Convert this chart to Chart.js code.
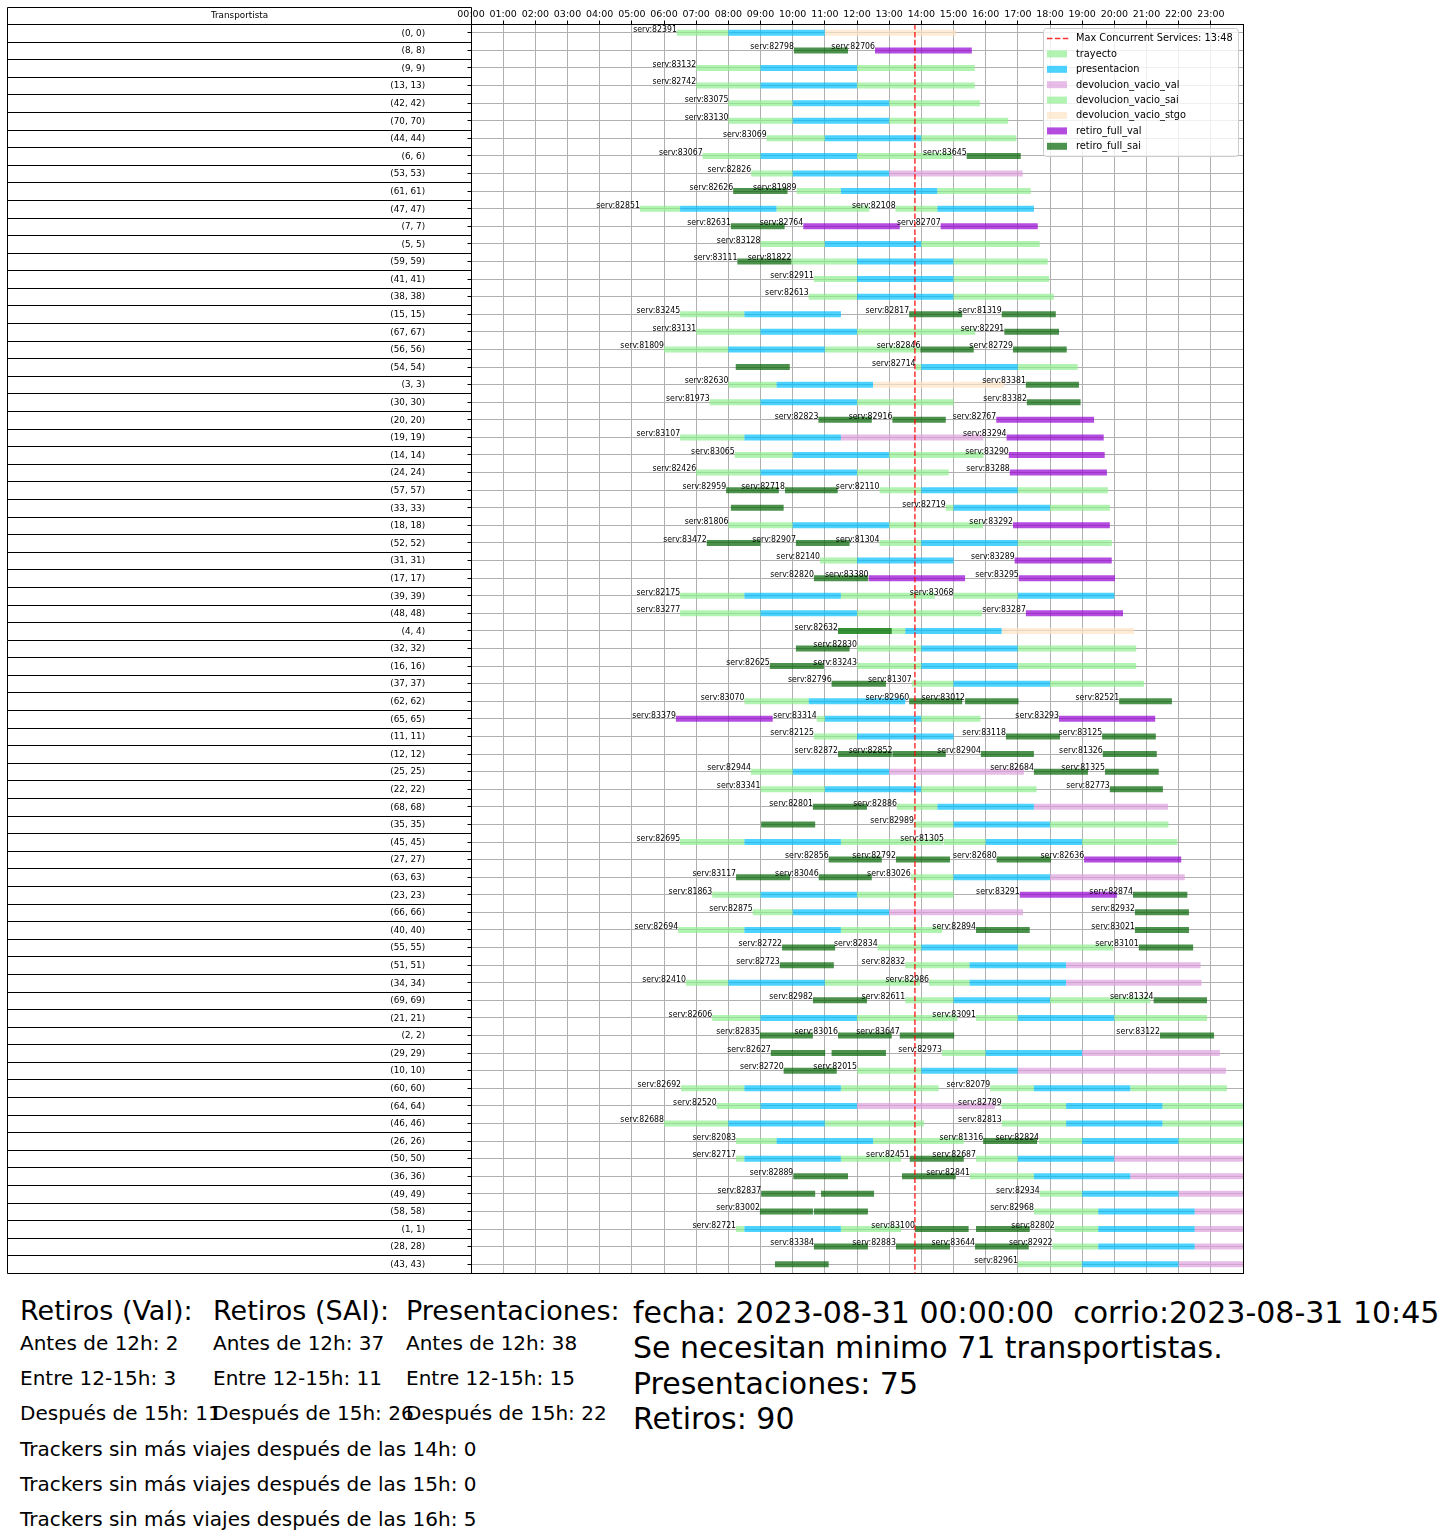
<!DOCTYPE html>
<html><head><meta charset="utf-8">
<script src="https://cdn.jsdelivr.net/npm/chart.js@4.4.0/dist/chart.umd.min.js"></script>
<style>
html,body{margin:0;padding:0;background:#fff;}
#wrap{position:relative;width:1446px;height:1537px;overflow:hidden;background:#fff;}
#c{position:absolute;left:0;top:0;}
.t{position:absolute;white-space:pre;font-family:'DejaVu Sans',sans-serif;color:#000;}
</style></head><body>
<div id="wrap"><canvas id="c" width="1446" height="1290"></canvas><div id="txt"></div></div>
<script>
// ---------------- DATA ----------------
const transportistas = [0,8,9,13,42,70,44,6,53,61,47,7,5,59,41,38,15,67,56,54,3,30,20,19,14,24,57,33,18,52,31,17,39,48,4,32,16,37,62,65,11,12,25,22,68,35,45,27,63,23,66,40,55,51,34,69,21,2,29,10,60,64,46,26,50,36,49,58,1,28,43];
const hourTicks = ['00:00','01:00','02:00','03:00','04:00','05:00','06:00','07:00','08:00','09:00','10:00','11:00','12:00','13:00','14:00','15:00','16:00','17:00','18:00','19:00','20:00','21:00','22:00','23:00'];
const maxConcurrentHour = 13.8;
const maxConcurrentLabel = '13:48';

// [fila, inicio(h), fin(h)]
const trayecto = [
[0,6.4,8],[2,7,9],[3,7,9],[4,8,10],[5,8,10],[6,9.19,11],[7,7.2,9],[8,8.71,10],[9,10.12,11.5],[10,5.25,6.5],[10,13.2,14.5],
[12,9,11],[13,9.96,12],[14,10.66,12],[15,10.5,12],[16,6.5,8.5],[17,7,9],[18,6,8],[19,13.82,14],
[20,8,9.5],[21,7.42,9],[23,6.5,8.5],[24,8.2,10],[25,7,9],[26,12.7,14],[27,14.76,15],[28,8,10],[29,12.7,14],
[30,10.85,12],[32,6.5,8.5],[32,15,17],[33,6.5,9],[34,11.41,13.5],[35,12,14],[36,12,14],[37,13.7,15],[38,8.5,10.5],[39,10.75,11],
[40,10.66,12],[42,8.7,10],[43,9,11],[44,13.24,14.5],[45,13.77,15],[46,6.5,8.5],[46,14.7,16],[48,13.67,15],[49,7.5,9],
[50,8.76,10],[51,6.44,8.5],[52,12.64,14],[53,13.5,15.5],[54,6.68,8],[54,14.24,15.5],[55,13.5,15],[56,7.5,9],[56,15.7,17],[58,14.64,16],[59,12,14],
[60,6.53,8.5],[60,16.14,17.5],[61,7.64,9],[61,16.5,18.5],[62,6,8],[62,16.5,18.5],[63,8.24,9.5],[63,17.66,19],[64,8.24,8.5],[64,15.7,17],[65,15.51,17.5],[66,17.68,19],[67,17.5,19.5],[68,8.24,8.5],[68,18.15,19.5],[69,18.08,19.5],[70,17,19]
];
const presentacion = [
[0,8,11],[2,9,12],[3,9,12],[4,10,13],[5,10,13],[6,11,14],[7,9,12],[8,10,13],[9,11.5,14.5],[10,6.5,9.5],[10,14.5,17.5],
[12,11,14],[13,12,15],[14,12,15],[15,12,15],[16,8.5,11.5],[17,9,12],[18,8,11],[19,14,17],
[20,9.5,12.5],[21,9,12],[23,8.5,11.5],[24,10,13],[25,9,12],[26,14,17],[27,15,18],[28,10,13],[29,14,17],
[30,12,15],[32,8.5,11.5],[32,17,20],[33,9,12],[34,13.5,16.5],[35,14,17],[36,14,17],[37,15,18],[38,10.5,13.5],[39,11,14],
[40,12,15],[42,10,13],[43,11,14],[44,14.5,17.5],[45,15,18],[46,8.5,11.5],[46,16,19],[48,15,18],[49,9,12],
[50,10,13],[51,8.5,11.5],[52,14,17],[53,15.5,18.5],[54,8,11],[54,15.5,18.5],[55,15,18],[56,9,12],[56,17,20],[58,16,19],[59,14,17],
[60,8.5,11.5],[60,17.5,20.5],[61,9,12],[61,18.5,21.5],[62,8,11],[62,18.5,21.5],[63,9.5,12.5],[63,19,22],[64,8.5,11.5],[64,17,20],[65,17.5,20.5],[66,19,22],[67,19.5,22.5],[68,8.5,11.5],[68,19.5,22.5],[69,19.5,22.5],[70,19,22]
];
const devolucionVacioVal = [
[8,13,17.15],[23,11.5,15.93],[42,13,17.19],[44,17.5,21.67],[48,18,22.19],[50,13,17.16],[53,18.5,22.68],[54,18.5,22.71],[58,19,23.28],[59,17,23.47],[61,12,16.29],[64,20,24],[65,20.5,24],[66,22,24],[67,22.5,24],[68,22.5,24],[69,22.5,24],[70,22,24]
];
const devolucionVacioSai = [
[2,12,15.66],[3,12,15.66],[4,13,15.82],[5,13,16.7],[6,14,16.95],[7,12,14.96],[9,14.5,17.4],[10,9.5,12.38],[12,14,17.68],[13,15,17.93],[14,15,17.97],[15,15,18.12],[17,12,15.67],[18,11,13.96],[19,17,18.86],
[21,12,15],[24,13,15.93],[25,12,14.85],[26,17,19.8],[27,18,19.86],[28,13,15.92],[29,17,19.92],[32,11.5,14.42],[33,12,15.88],[35,17,20.68],[36,17,20.68],[37,18,20.92],[39,14,15.84],
[43,14,17.58],[45,18,21.68],[46,11.5,14.67],[46,19,21.96],[49,12,15],[51,11.5,14.64],[52,17,19.96],[54,11,13.96],[55,18,21.12],[56,12,15.12],[56,20,22.88],
[60,11.5,14.54],[60,20.5,23.5],[61,21.5,24],[62,11,14.08],[62,21.5,24],[63,12.5,15.32],[63,22,24],[64,11.5,13.37],[68,11.5,13.37]
];
const devolucionVacioStgo = [[0,11,15.08],[20,12.5,16.58],[34,16.5,20.62]];
const retiroFullVal = [
[1,12.56,15.57],[11,10.33,13.33],[11,14.6,17.62],[22,16.33,19.37],[23,16.65,19.67],[24,16.72,19.7],[25,16.75,19.77],[28,16.85,19.86],[30,16.9,19.92],[31,12.36,15.36],[31,17.03,20.02],[33,17.25,20.27],[39,6.37,9.38],[39,18.28,21.27],[47,19.06,22.08],[49,17.06,20.08]
];
const retiroFullSai = [
[1,10.04,11.72],[7,15.41,17.09],[9,8.15,9.84],[11,8.08,9.75],[13,8.28,9.96],[16,13.62,15.27],[16,16.5,18.18],[17,16.58,18.28],[18,13.97,15.63],[18,16.85,18.52],[19,8.23,9.91],
[20,17.25,18.9],[21,17.28,18.95],[22,10.8,12.46],[22,13.1,14.76],[26,7.93,9.57],[26,9.76,11.4],[27,8.08,9.72],[29,7.33,9.0],[29,10.1,11.77],
[31,10.66,12.34],[34,11.41,13.08],[35,10.1,11.77],[36,9.29,10.97],[37,11.21,12.9],[38,13.62,15.27],[38,15.36,17.02],[38,20.15,21.79],
[40,16.63,18.31],[40,19.62,21.29],[41,11.41,13.08],[41,13.1,14.76],[41,15.85,17.5],[41,19.64,21.32],[42,17.5,19.18],[42,19.71,21.38],[43,19.86,21.51],[44,10.63,12.31],[45,9.02,10.7],[47,11.12,12.77],[47,13.21,14.89],[47,16.34,18.03],[48,8.24,9.92],[48,10.81,12.46],[49,20.58,22.27],
[50,20.64,22.32],[51,15.7,17.37],[51,20.64,22.32],[52,9.67,11.32],[52,20.76,22.45],[53,9.6,11.28],[55,10.63,12.31],[55,21.22,22.88],[57,8.98,10.63],[57,11.41,13.08],[57,13.33,15.02],[57,21.42,23.1],[58,9.32,11.01],[58,11.21,12.9],[59,9.72,11.37],
[63,15.92,17.6],[64,13.64,15.32],[65,10.02,11.72],[65,13.4,15.07],[66,9.02,10.7],[66,10.88,12.53],[67,8.98,10.63],[67,10.66,12.34],[68,13.8,15.47],[68,15.7,17.37],[69,10.66,12.34],[69,13.21,14.89],[69,15.67,17.34],[70,9.45,11.12]
];
// [fila, inicio(h), servicio]
const servLabels = [
[0,6.4,'82391'],[1,10.04,'82798'],[1,12.56,'82706'],[2,7,'83132'],[3,7,'82742'],[4,8,'83075'],[5,8,'83130'],[6,9.19,'83069'],[7,7.2,'83067'],[7,15.41,'83645'],[8,8.71,'82826'],[9,8.15,'82626'],[9,10.12,'81989'],[10,5.25,'82851'],[10,13.2,'82108'],
[11,8.08,'82631'],[11,10.33,'82764'],[11,14.6,'82707'],[12,9,'83128'],[13,8.28,'83111'],[13,9.96,'81822'],[14,10.66,'82911'],[15,10.5,'82613'],[16,6.5,'83245'],[16,13.62,'82817'],[16,16.5,'81319'],[17,7,'83131'],[17,16.58,'82291'],[18,6,'81809'],[18,13.97,'82846'],[18,16.85,'82729'],[19,13.82,'82714'],
[20,8,'82630'],[20,17.25,'83381'],[21,7.42,'81973'],[21,17.28,'83382'],[22,10.8,'82823'],[22,13.1,'82916'],[22,16.33,'82767'],[23,6.5,'83107'],[23,16.65,'83294'],[24,8.2,'83065'],[24,16.72,'83290'],[25,7,'82426'],[25,16.75,'83288'],[26,7.93,'82959'],[26,9.76,'82718'],[26,12.7,'82110'],[27,14.76,'82719'],[28,8,'81806'],[28,16.85,'83292'],[29,7.33,'83472'],[29,10.1,'82907'],[29,12.7,'81304'],
[30,10.85,'82140'],[30,16.9,'83289'],[31,10.66,'82820'],[31,12.36,'83380'],[31,17.03,'83295'],[32,6.5,'82175'],[32,15,'83068'],[33,6.5,'83277'],[33,17.25,'83287'],[34,11.41,'82632'],[35,12,'82830'],[36,9.29,'82625'],[36,12,'83243'],[37,11.21,'82796'],[37,13.7,'81307'],[38,8.5,'83070'],[38,13.62,'82960'],[38,15.36,'83012'],[38,20.15,'82521'],[39,6.37,'83379'],[39,10.75,'83314'],[39,18.28,'83293'],
[40,10.66,'82125'],[40,16.63,'83118'],[40,19.62,'83125'],[41,11.41,'82872'],[41,13.1,'82852'],[41,15.85,'82904'],[41,19.64,'81326'],[42,8.7,'82944'],[42,17.5,'82684'],[42,19.71,'81325'],[43,9,'83341'],[43,19.86,'82773'],[44,10.63,'82801'],[44,13.24,'82886'],[45,13.77,'82989'],[46,6.5,'82695'],[46,14.7,'81305'],[47,11.12,'82856'],[47,13.21,'82792'],[47,16.34,'82680'],[47,19.06,'82636'],[48,8.24,'83117'],[48,10.81,'83046'],[48,13.67,'83026'],[49,7.5,'81863'],[49,17.06,'83291'],[49,20.58,'82874'],
[50,8.76,'82875'],[50,20.64,'82932'],[51,6.44,'82694'],[51,15.7,'82894'],[51,20.64,'83021'],[52,9.67,'82722'],[52,12.64,'82834'],[52,20.76,'83101'],[53,9.6,'82723'],[53,13.5,'82832'],[54,6.68,'82410'],[54,14.24,'82986'],[55,10.63,'82982'],[55,13.5,'82611'],[55,21.22,'81324'],[56,7.5,'82606'],[56,15.7,'83091'],[57,8.98,'82835'],[57,11.41,'83016'],[57,13.33,'83647'],[57,21.42,'83122'],[58,9.32,'82627'],[58,14.64,'82973'],[59,9.72,'82720'],[59,12,'82015'],
[60,6.53,'82692'],[60,16.14,'82079'],[61,7.64,'82520'],[61,16.5,'82789'],[62,6,'82688'],[62,16.5,'82813'],[63,8.24,'82083'],[63,15.92,'81316'],[63,17.66,'82824'],[64,8.24,'82717'],[64,13.64,'82451'],[64,15.7,'82687'],[65,10.02,'82889'],[65,15.51,'82841'],[66,9.02,'82837'],[66,17.68,'82934'],[67,8.98,'83002'],[67,17.5,'82968'],[68,8.24,'82721'],[68,13.8,'83100'],[68,18.15,'82802'],[69,10.66,'83384'],[69,13.21,'82883'],[69,15.67,'83644'],[69,18.08,'82922'],[70,17,'82961']
];
// Resumen
const resumenRetirosVal = [2, 3, 11];
const resumenRetirosSai = [37, 11, 26];
const resumenPresentaciones = [38, 15, 22];
const trackersSinViajes = [[14, 0], [15, 0], [16, 5]];
const infoLines = ['fecha: 2023-08-31 00:00:00  corrio:2023-08-31 10:45', 'Se necesitan minimo 71 transportistas.', 'Presentaciones: 75', 'Retiros: 90'];

// ---------------- STYLE ----------------
const COL = {
  trayecto: 'rgba(144,238,144,0.7)',
  presentacion: 'rgba(0,191,255,0.7)',
  devolucion_vacio_val: 'rgba(221,160,221,0.7)',
  devolucion_vacio_sai: 'rgba(144,238,144,0.7)',
  devolucion_vacio_stgo: 'rgba(255,228,196,0.7)',
  retiro_full_val: 'rgba(148,0,211,0.7)',
  retiro_full_sai: 'rgba(0,100,0,0.7)'
};
const FONT = "'DejaVu Sans', sans-serif";
Chart.defaults.font.family = FONT;
Chart.defaults.color = '#000';

const toPts = arr => arr.map(([r, s, e]) => ({ y: r, x: [s, e] }));
const barDS = (label, arr, order) => ({
  type: 'bar', label, data: toPts(arr), backgroundColor: COL[label], order,
  barThickness: 6, grouped: false, borderWidth: 0, inflateAmount: 0, clip: 0
});

const nRows = transportistas.length;

function condensedText(ctx, text, x, y, sx) {
  ctx.save();
  ctx.translate(x, y);
  ctx.scale(sx, 1);
  ctx.fillText(text, 0, 0);
  ctx.restore();
}

const tablePlugin = {
  id: 'tabla',
  afterDraw(chart) {
    const ctx = chart.ctx, ys = chart.scales.y, xs = chart.scales.x, a = chart.chartArea;
    const L = 7.5, R = Math.round(a.left) + 0.5, hTop = 7.5;
    const bottom = Math.round(a.bottom) + 0.5;
    ctx.save();
    ctx.strokeStyle = '#000'; ctx.lineWidth = 1;
    ctx.beginPath();
    ctx.moveTo(L, hTop); ctx.lineTo(R, hTop);
    for (let i = 0; i <= nRows; i++) {
      const py = Math.round(ys.getPixelForValue(i - 0.5)) + 0.5;
      ctx.moveTo(L, py); ctx.lineTo(R, py);
    }
    ctx.moveTo(L, hTop); ctx.lineTo(L, bottom);
    ctx.moveTo(R, hTop); ctx.lineTo(R, bottom);
    ctx.stroke();
    ctx.fillStyle = '#000';
    ctx.font = "8.8px " + FONT;
    ctx.textAlign = 'center'; ctx.textBaseline = 'middle';
    ctx.fillText('Transportista', (L + R) / 2, (hTop + ys.getPixelForValue(-0.5)) / 2);
    ctx.textAlign = 'right';
    const tx = L + 0.9 * (R - L);
    transportistas.forEach((n, i) => {
      ctx.fillText('(' + n + ', ' + n + ')', tx, ys.getPixelForValue(i) + 0.5);
    });
    // plot frame
    ctx.strokeRect(Math.round(a.left) + 0.5, Math.round(a.top) + 0.5, Math.round(a.right) - Math.round(a.left), Math.round(a.bottom) - Math.round(a.top));
    // service labels
    ctx.font = "9.5px " + FONT;
    ctx.textAlign = 'right'; ctx.textBaseline = 'alphabetic';
    servLabels.forEach(([r, s, id]) => {
      condensedText(ctx, 'serv:' + id, xs.getPixelForValue(s), ys.getPixelForValue(r) - 1.2, 0.82);
    });
    // legend
    const lw = 195, lh = 128;
    const lx = Math.round(a.right) - 4.5 - lw, ly = Math.round(a.top) + 4.5;
    ctx.beginPath();
    ctx.roundRect(lx, ly, lw, lh, 3);
    ctx.fillStyle = 'rgba(255,255,255,0.8)'; ctx.fill();
    ctx.strokeStyle = '#cccccc'; ctx.stroke();
    const items = ['trayecto','presentacion','devolucion_vacio_val','devolucion_vacio_sai','devolucion_vacio_stgo','retiro_full_val','retiro_full_sai'];
    const y0 = ly + 10, step = 15.4, hx = lx + 3.5, tx2 = lx + 32.5;
    ctx.save();
    ctx.strokeStyle = 'rgba(255,0,0,0.8)'; ctx.lineWidth = 1.5; ctx.setLineDash([5.5, 2.4]);
    ctx.beginPath(); ctx.moveTo(hx, y0); ctx.lineTo(hx + 23, y0); ctx.stroke();
    ctx.restore();
    ctx.font = "11px " + FONT; ctx.textAlign = 'left'; ctx.textBaseline = 'middle'; ctx.fillStyle = '#000';
    condensedText(ctx, 'Max Concurrent Services: ' + maxConcurrentLabel, tx2, y0, 0.89);
    items.forEach((k, i) => {
      const cy = y0 + step * (i + 1);
      ctx.fillStyle = COL[k];
      ctx.fillRect(hx, cy - 3.5, 20, 7);
      ctx.fillStyle = '#000';
      condensedText(ctx, k, tx2, cy, 0.89);
    });
    ctx.restore();
  }
};

new Chart(document.getElementById('c'), {
  data: {
    datasets: [
      { type: 'line', label: 'Max Concurrent Services: ' + maxConcurrentLabel,
        data: [{ x: maxConcurrentHour, y: -0.5 }, { x: maxConcurrentHour, y: nRows - 0.5 }],
        borderColor: 'rgba(255,0,0,0.8)', borderWidth: 1.5, borderDash: [5.5, 2.4],
        pointRadius: 0, fill: false, order: 0, tension: 0 },
      barDS('trayecto', trayecto, 7),
      barDS('presentacion', presentacion, 6),
      barDS('devolucion_vacio_val', devolucionVacioVal, 5),
      barDS('devolucion_vacio_sai', devolucionVacioSai, 4),
      barDS('devolucion_vacio_stgo', devolucionVacioStgo, 3),
      barDS('retiro_full_val', retiroFullVal, 2),
      barDS('retiro_full_sai', retiroFullSai, 1)
    ]
  },
  options: {
    indexAxis: 'y',
    responsive: false,
    animation: false,
    devicePixelRatio: 1,
    layout: { padding: { left: 0, top: 0, right: 203, bottom: 17 } },
    plugins: { legend: { display: false }, tooltip: { enabled: false } },
    scales: {
      x: {
        type: 'linear', position: 'top', min: 0, max: 24, z: 1, offset: false,
        afterBuildTicks: s => { s.ticks = hourTicks.map((_, i) => ({ value: i })); },
        afterFit: s => { s.height = 24; },
        grid: { color: '#b0b0b0', lineWidth: 1, tickLength: 3.5, tickColor: '#000', offset: false },
        border: { display: false },
        ticks: { autoSkip: false, maxRotation: 0, minRotation: 0, padding: 0.5, color: '#000',
          font: { size: 9.5, family: FONT }, callback: v => hourTicks[v] }
      },
      y: {
        type: 'linear', reverse: true, min: -0.5, max: nRows - 0.5, z: 1, offset: false,
        afterBuildTicks: s => { s.ticks = transportistas.map((_, i) => ({ value: i })); },
        afterFit: s => { s.width = 471; },
        grid: { color: '#b0b0b0', lineWidth: 1, tickLength: 3.5, tickColor: '#000', offset: false },
        border: { display: false },
        ticks: { display: false }
      }
    }
  },
  plugins: [tablePlugin]
});

// ---------------- TEXTO INFERIOR ----------------
const txt = document.getElementById('txt');
function place(text, x, baseline, size) {
  const d = document.createElement('div');
  d.className = 't';
  d.style.left = x + 'px';
  d.style.top = (baseline - 0.846 * size) + 'px';
  d.style.fontSize = size + 'px';
  d.style.lineHeight = size + 'px';
  d.textContent = text;
  txt.appendChild(d);
}
const cols = [['Retiros (Val):', resumenRetirosVal, 20], ['Retiros (SAI):', resumenRetirosSai, 213], ['Presentaciones:', resumenPresentaciones, 406]];
cols.forEach(([title, v, x]) => {
  place(title, x, 1320, 27);
  place('Antes de 12h: ' + v[0], x, 1350, 20);
  place('Entre 12-15h: ' + v[1], x, 1385, 20);
  place('Después de 15h: ' + v[2], x, 1420, 20);
});
trackersSinViajes.forEach(([h, n], i) => {
  place('Trackers sin más viajes después de las ' + h + 'h: ' + n, 20, 1456 + 35 * i, 20);
});
infoLines.forEach((s, i) => place(s, 633, 1323.5 + 35.2 * i, 30));
</script>
</body></html>
